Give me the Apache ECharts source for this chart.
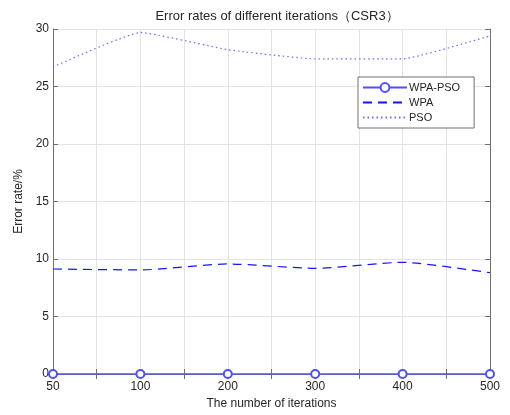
<!DOCTYPE html>
<html>
<head>
<meta charset="utf-8">
<script src="https://cdn.jsdelivr.net/npm/echarts@6/dist/echarts.min.js"></script>
<style>
  html, body { margin: 0; padding: 0; background: #fff; }
  #chart { width: 510px; height: 415px; }
</style>
</head>
<body>
<div id="chart"></div>
<script>
// Iteration counts shown along the x axis (evenly spaced positions)
const iterations = ['50', '100', '200', '300', '400', '500'];
// Error rates (%) for each method
const wpaPso = [0, 0, 0, 0, 0, 0];
const wpa = [9.13, 9.05, 9.57, 9.19, 9.71, 8.81];
const pso = [26.7, 29.7, 28.2, 27.4, 27.4, 29.4];
const yTicks = { min: 0, max: 30, step: 5 };

const toPoints = arr => arr.map((v, i) => [i + 1, v]);
const labelFor = v => Number.isInteger(v) ? iterations[v - 1] : '';

const textColor = '#262626';
const axisColor = '#707070';
const gridColor = '#e3e3e3';
const font = 'Helvetica, Arial, "Liberation Sans", sans-serif';

const chart = echarts.init(document.getElementById('chart'));

const baseX = {
  type: 'value', min: 1, max: iterations.length, interval: 0.5,
  axisLine: { show: true, lineStyle: { color: axisColor, width: 1 } },
  axisTick: { show: true, inside: true, length: 5, lineStyle: { color: axisColor } },
  splitLine: { show: false }
};
const baseY = {
  type: 'value', min: yTicks.min, max: yTicks.max, interval: yTicks.step,
  axisLine: { show: true, lineStyle: { color: axisColor, width: 1 } },
  axisTick: { show: true, inside: true, length: 5, lineStyle: { color: axisColor } },
  splitLine: { show: false }
};

chart.setOption({
  animation: false,
  backgroundColor: '#fff',
  textStyle: { fontFamily: font },
  title: {
    text: 'Error rates of different iterations（CSR3）',
    left: 272, top: 5, textAlign: 'center',
    textStyle: { fontSize: 13, fontWeight: 'normal', color: textColor, fontFamily: font }
  },
  grid: { left: 53, right: 20, top: 29, bottom: 41, containLabel: false },
  legend: {
    orient: 'vertical',
    left: 358, top: 77,
    padding: [5, 14, 5, 4],
    itemGap: 4,
    itemWidth: 44, itemHeight: 11,
    backgroundColor: '#fff',
    borderColor: '#707070', borderWidth: 1,
    textStyle: { fontSize: 11, color: textColor, fontFamily: font, padding: [0, 0, 0, -3] },
    data: [
      { name: 'WPA-PSO' },
      { name: 'WPA', itemStyle: { opacity: 0 } },
      { name: 'PSO', itemStyle: { opacity: 0 } }
    ]
  },
  xAxis: [
    Object.assign({}, baseX, {
      position: 'bottom',
      name: 'The number of iterations', nameLocation: 'middle', nameGap: 23,
      nameTextStyle: { fontSize: 12, color: textColor, fontFamily: font },
      axisLabel: { show: true, formatter: labelFor, fontSize: 12, color: textColor, margin: 7 },
      splitLine: { show: true, lineStyle: { color: gridColor, width: 1 } }
    }),
    Object.assign({}, baseX, { position: 'top', axisLabel: { show: false } })
  ],
  yAxis: [
    Object.assign({}, baseY, {
      position: 'left',
      name: 'Error rate/%', nameLocation: 'middle', nameGap: 23,
      nameTextStyle: { fontSize: 12, color: textColor, fontFamily: font },
      axisLabel: { show: true, fontSize: 12, color: textColor, margin: 4 },
      splitLine: { show: true, lineStyle: { color: gridColor, width: 1 } }
    }),
    Object.assign({}, baseY, { position: 'right', axisLabel: { show: false } })
  ],
  series: [
    {
      name: 'WPA-PSO', type: 'line', data: toPoints(wpaPso),
      symbol: 'emptyCircle', symbolSize: 8,
      itemStyle: { color: '#4f4fff', borderWidth: 1.3 },
      lineStyle: { color: '#4f4fff', width: 1.3, type: 'solid' },
      z: 5
    },
    {
      name: 'WPA', type: 'line', data: toPoints(wpa),
      symbol: 'none', smooth: 0.2,
      itemStyle: { color: '#1515ff' },
      lineStyle: { color: '#1515ff', width: 1.2, type: [9, 6] }
    },
    {
      name: 'PSO', type: 'line', data: toPoints(pso),
      symbol: 'none', smooth: 0.12,
      itemStyle: { color: '#6a6aff' },
      lineStyle: { color: '#6a6aff', width: 1.2, type: [1.5, 3] }
    }
  ]
});
</script>
</body>
</html>
